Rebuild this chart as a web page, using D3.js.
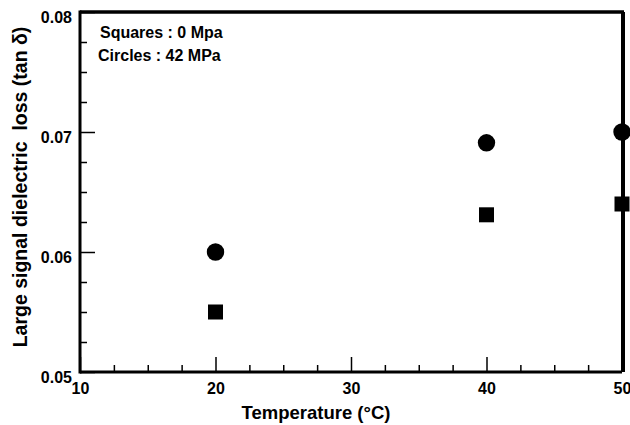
<!DOCTYPE html>
<html>
<head>
<meta charset="utf-8">
<script src="https://cdn.jsdelivr.net/npm/d3@7"></script>
<style>
  body { margin: 0; background: #fff; }
  text { font-family: "Liberation Sans", Arial, sans-serif; font-weight: bold; fill: #000; }
</style>
</head>
<body>
<div id="chart"></div>
<script>
// data
const temps = [20, 40, 50];
const squares0MPa = [0.0550, 0.0631, 0.0640];
const circles42MPa = [0.0600, 0.0691, 0.0700];
const xMajor = [10, 20, 30, 40, 50];
const xMinor = [12.5, 15, 17.5, 22.5, 25, 27.5, 32.5, 35, 37.5, 42.5, 45, 47.5];
const yMajor = [0.05, 0.06, 0.07, 0.08];
const yMinor = [0.0525, 0.055, 0.0575, 0.0625, 0.065, 0.0675, 0.0725, 0.075, 0.0775];
const legendLines = ["Squares : 0 Mpa", "Circles : 42 MPa"];

const width = 630, height = 425;
const margin = {top: 12, right: 8, bottom: 53, left: 80};

const svg = d3.select("#chart").append("svg")
    .attr("width", width)
    .attr("height", height);

const x = d3.scaleLinear().domain([10, 50]).range([margin.left, width - margin.right]);
const y = d3.scaleLinear().domain([0.05, 0.08]).range([height - margin.bottom, margin.top]);

// frame: top and right edges
svg.append("line")
    .attr("x1", x(10)).attr("x2", x(50) + 2)
    .attr("y1", y(0.08)).attr("y2", y(0.08))
    .attr("stroke", "#000").attr("stroke-width", 3.5);
svg.append("line")
    .attr("x1", x(50) + 1).attr("x2", x(50) + 1)
    .attr("y1", y(0.08)).attr("y2", y(0.05))
    .attr("stroke", "#000").attr("stroke-width", 4);

// x axis, ticks pointing inward
const gx = svg.append("g").attr("transform", `translate(0,${y(0.05)})`);
gx.call(d3.axisBottom(x).tickValues(xMajor).tickSizeInner(-15).tickSizeOuter(0).tickPadding(11).tickFormat(d3.format("d")));
gx.append("g").call(d3.axisBottom(x).tickValues(xMinor).tickSizeInner(-7).tickSizeOuter(0).tickFormat(""));
gx.selectAll(".domain").remove();
gx.selectAll("text").attr("font-size", 16).attr("font-family", null);
gx.selectAll("line").attr("stroke-width", 1.5);

// y axis
const gy = svg.append("g").attr("transform", `translate(${x(10)},0)`);
gy.call(d3.axisLeft(y).tickValues(yMajor).tickSizeInner(-15).tickSizeOuter(0).tickPadding(8).tickFormat(d3.format(".2f")));
gy.append("g").call(d3.axisLeft(y).tickValues(yMinor).tickSizeInner(-7).tickSizeOuter(0).tickFormat(""));
gy.selectAll(".domain").remove();
gy.selectAll("text").attr("font-size", 16).attr("font-family", null).attr("dy", "0.65em");
gy.selectAll("line").attr("stroke-width", 1.5);

// axis lines
svg.append("line")
    .attr("x1", x(10)).attr("x2", x(50))
    .attr("y1", y(0.05)).attr("y2", y(0.05))
    .attr("stroke", "#000").attr("stroke-width", 3);
svg.append("line")
    .attr("x1", x(10)).attr("x2", x(10))
    .attr("y1", y(0.08) - 1.5).attr("y2", y(0.05) + 1.5)
    .attr("stroke", "#000").attr("stroke-width", 3);

// markers
const sq = 15;
svg.append("g").selectAll("rect")
  .data(temps.map((t, i) => [t, squares0MPa[i]]))
  .join("rect")
    .attr("x", d => x(d[0]) - sq / 2)
    .attr("y", d => y(d[1]) - sq / 2)
    .attr("width", sq).attr("height", sq)
    .attr("fill", "#000");

svg.append("g").selectAll("circle")
  .data(temps.map((t, i) => [t, circles42MPa[i]]))
  .join("circle")
    .attr("cx", d => x(d[0]))
    .attr("cy", d => y(d[1]))
    .attr("r", 8.7)
    .attr("fill", "#000");

// legend text
svg.append("g").selectAll("text")
  .data(legendLines)
  .join("text")
    .attr("x", (d, i) => i === 0 ? 100 : 98)
    .attr("y", (d, i) => 38 + i * 23)
    .attr("font-size", 16)
    .text(d => d);

// axis titles
svg.append("text")
    .attr("x", 316).attr("y", 419)
    .attr("text-anchor", "middle")
    .attr("font-size", 18.5)
    .text("Temperature (°C)");

svg.append("text")
    .attr("transform", "translate(27,187) rotate(-90)")
    .attr("text-anchor", "middle")
    .attr("font-size", 19.5)
    .style("white-space", "pre")
    .text("Large signal dielectric  loss (tan δ)");
</script>
</body>
</html>
